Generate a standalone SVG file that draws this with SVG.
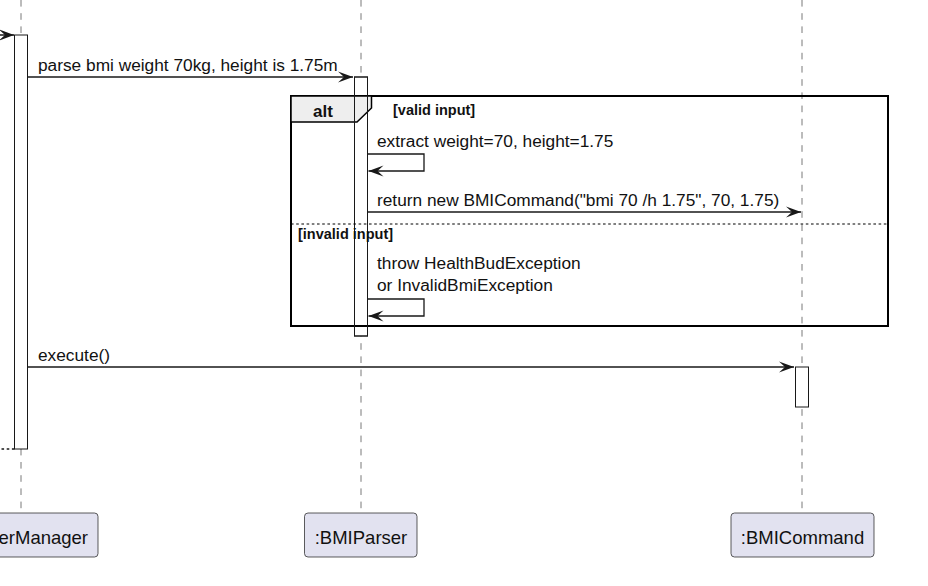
<svg xmlns="http://www.w3.org/2000/svg" width="928" height="586" viewBox="0 0 928 586">
<style>
.life{stroke:#555;stroke-width:0.8;stroke-dasharray:6.6,6.6;fill:none}
.act{fill:#ffffff;stroke:#181818;stroke-width:1}
.actline{fill:none;stroke:#181818;stroke-width:1}
.msg{stroke:#181818;stroke-width:1.3;fill:none}
.ret{stroke:#181818;stroke-width:1.3;fill:none;stroke-dasharray:2.6,2.6}
.t{font-family:"Liberation Sans",Arial,sans-serif;font-size:17.3px;fill:#111}
.g{font-family:"Liberation Sans",Arial,sans-serif;font-size:14.5px;font-weight:bold;fill:#111}
.alt{font-family:"Liberation Sans",Arial,sans-serif;font-size:17px;font-weight:bold;fill:#111}
.pbox{fill:#E2E2F0;stroke:#181818;stroke-width:0.7}
.pt{font-family:"Liberation Sans",Arial,sans-serif;font-size:18.5px;fill:#111}
.frame{fill:none;stroke:#000;stroke-width:2}
.sep{stroke:#000;stroke-width:1;stroke-dasharray:2.6,2.6}
</style>
<defs>
<marker id="ah" viewBox="0 0 16 12" markerWidth="16" markerHeight="12" refX="15" refY="6" orient="auto" markerUnits="userSpaceOnUse">
<path d="M0,0.5 L15,6 L0,11.5 L6,6 Z" fill="#181818"/>
</marker>
</defs>
<rect width="928" height="586" fill="#ffffff"/>

<g id="lifelines">
<line class="life" x1="21" y1="0" x2="21" y2="513"/>
<line class="life" x1="361" y1="0" x2="361" y2="513"/>
<line class="life" x1="802" y1="0" x2="802" y2="513"/>
</g>

<g id="activations">
<rect class="act" x="14.5" y="35" width="13" height="414"/>
<rect class="act" x="354.5" y="77" width="13" height="259"/>
<rect class="act" x="795.5" y="367" width="13" height="40"/>
</g>

<g id="alt-frame">
<rect class="frame" x="291" y="96" width="597" height="230"/>
<path d="M291,96 L371.5,96 L371.5,108 L357,122 L291,122 Z" fill="#EEEEEE" stroke="#000" stroke-width="1.5"/>
<rect class="actline" x="354.5" y="77" width="13" height="259"/>
<text class="alt" x="313" y="117">alt</text>
<text class="g" x="393" y="115">[valid input]</text>
<line class="sep" x1="291" y1="224" x2="888" y2="224"/>
<text class="g" x="298" y="239">[invalid input]</text>
</g>

<g id="connectors">
<line class="msg" x1="-20" y1="35" x2="14" y2="35" marker-end="url(#ah)"/>
<line class="msg" x1="27.5" y1="77" x2="353" y2="77" marker-end="url(#ah)"/>
<text class="t" x="38" y="70.5">parse bmi weight 70kg, height is 1.75m</text>
<polyline class="msg" points="367.5,154 424,154 424,171 368.5,171" marker-end="url(#ah)"/>
<text class="t" x="377" y="147">extract weight=70, height=1.75</text>
<line class="msg" x1="367.5" y1="212" x2="801" y2="212" marker-end="url(#ah)"/>
<text class="t" x="377" y="205.5">return new BMICommand("bmi 70 /h 1.75", 70, 1.75)</text>
<polyline class="msg" points="367.5,299 424,299 424,316 368.5,316" marker-end="url(#ah)"/>
<text class="t" x="377" y="269">throw HealthBudException</text>
<text class="t" x="377" y="291">or InvalidBmiException</text>
<line class="msg" x1="27.5" y1="367" x2="794" y2="367" marker-end="url(#ah)"/>
<text class="t" x="38" y="360.5">execute()</text>
<line class="ret" x1="14.5" y1="449" x2="-20" y2="449"/>
</g>

<g id="p-usermanager">
<rect class="pbox" x="-56" y="513" width="154" height="44" rx="3.5"/>
<text class="pt" x="88" y="544" text-anchor="end">erManager</text>
</g>
<g id="p-bmiparser">
<rect class="pbox" x="304.5" y="513" width="112.5" height="44" rx="3.5"/>
<text class="pt" x="361" y="544" text-anchor="middle">:BMIParser</text>
</g>
<g id="p-bmicommand">
<rect class="pbox" x="731" y="513" width="143" height="44" rx="3.5"/>
<text class="pt" x="802.5" y="544" text-anchor="middle">:BMICommand</text>
</g>
</svg>
